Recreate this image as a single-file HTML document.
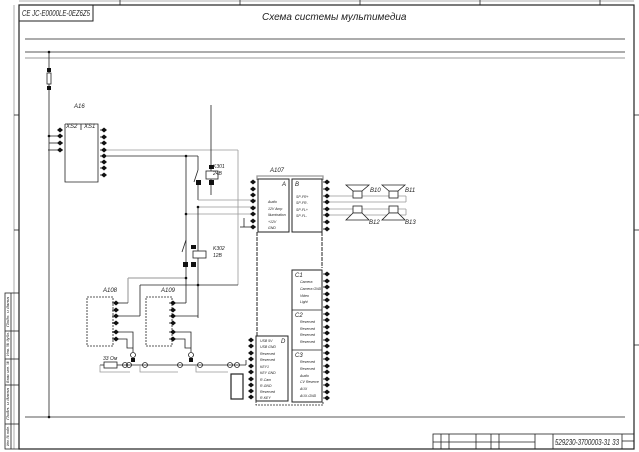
<!DOCTYPE html>
<html><head><meta charset="utf-8">
<style>
html,body{margin:0;padding:0;background:#fff}
svg{display:block}
text{font-family:"Liberation Sans",sans-serif;font-style:italic;fill:#222}
</style></head><body>
<svg width="639" height="452" viewBox="0 0 639 452" xmlns="http://www.w3.org/2000/svg">
<defs>
<g id="pr"><path d="M0,0 L3,-2.5 L6,0 L3,2.5 Z M3,-2.5 L6,0 L3,2.5" fill="#111"/><path d="M-1,0 L3,0" stroke="#111" stroke-width="0.8"/></g>
<g id="pl"><path d="M0,0 L-3,-2.5 L-6,0 L-3,2.5 Z" fill="#111"/></g>
</defs>
<g stroke="#222" fill="none" stroke-width="0.8">
<rect x="19" y="5" width="615" height="444" stroke-width="1.2"/>
<line x1="14" y1="5" x2="14" y2="449" stroke="#999"/>
<line x1="19" y1="1" x2="634" y2="1" stroke="#999"/>
<line x1="120" y1="0" x2="120" y2="5"/><line x1="240" y1="0" x2="240" y2="5"/><line x1="360" y1="0" x2="360" y2="5"/><line x1="480" y1="0" x2="480" y2="5"/><line x1="600" y1="0" x2="600" y2="5"/>
<line x1="14" y1="115" x2="19" y2="115"/><line x1="14" y1="230" x2="19" y2="230"/><line x1="634" y1="115" x2="639" y2="115"/><line x1="634" y1="230" x2="639" y2="230"/><line x1="634" y1="345" x2="639" y2="345"/>
<rect x="19" y="5" width="74" height="16" stroke-width="1"/>
<rect x="5" y="293" width="14" height="156"/>
<line x1="5" y1="331" x2="19" y2="331"/><line x1="5" y1="359" x2="19" y2="359"/><line x1="5" y1="385" x2="19" y2="385"/><line x1="5" y1="424" x2="19" y2="424"/>
<line x1="11" y1="293" x2="11" y2="449"/>
<rect x="433" y="434" width="201" height="15"/>
<line x1="433" y1="442" x2="535" y2="442"/>
<line x1="441" y1="434" x2="441" y2="449"/><line x1="449" y1="434" x2="449" y2="449"/><line x1="476" y1="434" x2="476" y2="449"/><line x1="491" y1="434" x2="491" y2="449"/><line x1="499" y1="434" x2="499" y2="449"/><line x1="535" y1="434" x2="535" y2="449"/><line x1="553" y1="434" x2="553" y2="449"/><line x1="622" y1="434" x2="622" y2="449"/><line x1="622" y1="441" x2="634" y2="441"/>
<line x1="25" y1="39" x2="625" y2="39"/>
<line x1="25" y1="52" x2="625" y2="52"/>
<line x1="25" y1="58" x2="625" y2="58" stroke="#bbb" stroke-width="1.6"/>
<line x1="25" y1="417" x2="625" y2="417"/>
<line x1="49" y1="52" x2="49" y2="417"/>
<rect x="47" y="73" width="4" height="11" fill="#fff"/>
<polyline points="65,124 65,182 98,182 98,124 65,124"/>
<line x1="81" y1="124" x2="81" y2="130"/>
<line x1="49" y1="136" x2="63" y2="136"/><line x1="49" y1="143" x2="63" y2="143"/>
<line x1="63" y1="150" x2="48" y2="150"/>
<line x1="107" y1="150" x2="238" y2="150" stroke="#999"/>
<line x1="107" y1="156" x2="198" y2="156"/>
<line x1="238" y1="150" x2="238" y2="285" stroke="#999"/>
<line x1="211" y1="105" x2="211" y2="195"/>
<rect x="206" y="171" width="12" height="8" fill="#fff"/>
<line x1="198" y1="156" x2="198" y2="170"/><line x1="198" y1="170" x2="194" y2="182"/>
<line x1="198" y1="182" x2="198" y2="200"/>
<line x1="198" y1="200" x2="256" y2="200" stroke="#999"/>
<line x1="198" y1="207" x2="256" y2="207" stroke="#999"/>
<line x1="186" y1="214" x2="256" y2="214" stroke="#999"/>
<line x1="186" y1="156" x2="186" y2="303"/>
<line x1="198" y1="207" x2="198" y2="318"/>
<rect x="193" y="251" width="13" height="7" fill="#fff"/>
<line x1="186" y1="240" x2="182" y2="252"/>
<line x1="186" y1="278" x2="128" y2="278" stroke="#aaa" stroke-width="1.3"/>
<line x1="128" y1="278" x2="128" y2="303" stroke="#aaa" stroke-width="1.3"/>
<line x1="238" y1="285" x2="140" y2="285"/>
<line x1="140" y1="285" x2="140" y2="316"/>
<line x1="113" y1="303" x2="128" y2="303"/><line x1="113" y1="316" x2="140" y2="316"/>
<line x1="172" y1="303" x2="186" y2="303"/><line x1="172" y1="316" x2="198" y2="316"/>
<line x1="244" y1="218" x2="244" y2="227"/><line x1="240" y1="227" x2="256" y2="227"/>
<rect x="87" y="297" width="26" height="49" stroke-dasharray="2,1"/>
<rect x="146" y="297" width="26" height="49" stroke-dasharray="2,1"/>
<polyline points="113,332 133,332 133,352"/><polyline points="113,339 127,339 127,348 133,348"/>
<polyline points="172,332 191,332 191,352"/><polyline points="172,339 185,339 185,348 191,348"/>
<line x1="100" y1="365" x2="246" y2="365"/>
<rect x="104" y="362" width="13" height="6" fill="#fff"/>
<polyline points="100,365 100,372 130,372" stroke="#999"/>
<polyline points="140,365 140,372 178,372" stroke="#999"/>
<polyline points="196,365 196,372 228,372" stroke="#999"/>
<circle cx="125" cy="365" r="2.5"/><circle cx="129" cy="365" r="2.5"/>
<circle cx="145" cy="365" r="2.5"/><circle cx="180" cy="365" r="2.5"/><circle cx="200" cy="365" r="2.5"/><circle cx="230" cy="365" r="2.5"/><circle cx="237" cy="365" r="2.5"/>
<circle cx="133" cy="355" r="2.5"/><circle cx="191" cy="355" r="2.5"/>
<line x1="246" y1="365" x2="246" y2="360"/>
<rect x="231" y="374" width="12" height="25" stroke-width="1.2"/>
<polyline points="257,180 257,176 323,176 323,180" stroke="#999" stroke-width="1.3"/>
<rect x="258" y="179" width="31" height="53" stroke-width="1"/>
<rect x="292" y="179" width="30" height="53" stroke-width="1"/>
<line x1="257" y1="232" x2="257" y2="336" stroke-width="1" stroke-dasharray="4,1"/>
<line x1="322" y1="232" x2="322" y2="268" stroke-width="1" stroke-dasharray="4,1"/>
<rect x="292" y="270" width="30" height="132" stroke-width="1"/>
<line x1="292" y1="310" x2="322" y2="310"/><line x1="292" y1="350" x2="322" y2="350"/>
<rect x="256" y="336" width="32" height="65" stroke-width="1"/>
<polyline points="256,401 256,405 323,405 323,401" stroke-dasharray="2,1"/>
<line x1="330" y1="196" x2="406" y2="196" stroke="#999"/><line x1="330" y1="202" x2="406" y2="202" stroke="#999"/>
<line x1="406" y1="196" x2="406" y2="202" stroke="#999"/>
<line x1="330" y1="209" x2="406" y2="209" stroke="#999"/><line x1="330" y1="215" x2="406" y2="215" stroke="#999"/>
<line x1="406" y1="209" x2="406" y2="215" stroke="#999"/>
<rect x="353" y="191" width="9" height="7" fill="#fff"/><polygon points="346,185 369,185 362,191 353,191" fill="#fff"/>
<rect x="389" y="191" width="9" height="7" fill="#fff"/><polygon points="382,185 405,185 398,191 389,191" fill="#fff"/>
<rect x="353" y="206" width="9" height="7" fill="#fff"/><polygon points="346,220 369,220 362,213 353,213" fill="#fff"/>
<rect x="389" y="206" width="9" height="7" fill="#fff"/><polygon points="382,220 405,220 398,213 389,213" fill="#fff"/>
</g>
<g>
<use href="#pl" x="63" y="130"/><use href="#pl" x="63" y="136"/><use href="#pl" x="63" y="143"/><use href="#pl" x="63" y="150"/>
<use href="#pr" x="101" y="130"/><use href="#pr" x="101" y="137"/><use href="#pr" x="101" y="143"/><use href="#pr" x="101" y="150"/><use href="#pr" x="101" y="156"/><use href="#pr" x="101" y="162"/><use href="#pr" x="101" y="168"/><use href="#pr" x="101" y="175"/>
<use href="#pl" x="256" y="182"/><use href="#pl" x="256" y="189"/><use href="#pl" x="256" y="195"/><use href="#pl" x="256" y="201"/><use href="#pl" x="256" y="208"/><use href="#pl" x="256" y="214"/><use href="#pl" x="256" y="221"/><use href="#pl" x="256" y="227"/>
<use href="#pr" x="324" y="182"/><use href="#pr" x="324" y="189"/><use href="#pr" x="324" y="196"/><use href="#pr" x="324" y="202"/><use href="#pr" x="324" y="209"/><use href="#pr" x="324" y="215"/><use href="#pr" x="324" y="222"/><use href="#pr" x="324" y="229"/>
<use href="#pr" x="113" y="303"/><use href="#pr" x="113" y="310"/><use href="#pr" x="113" y="316"/><use href="#pr" x="113" y="323"/><use href="#pr" x="113" y="332"/><use href="#pr" x="113" y="339"/>
<use href="#pr" x="170" y="303"/><use href="#pr" x="170" y="310"/><use href="#pr" x="170" y="316"/><use href="#pr" x="170" y="323"/><use href="#pr" x="170" y="332"/><use href="#pr" x="170" y="339"/>
<use href="#pl" x="254" y="340"/><use href="#pl" x="254" y="346"/><use href="#pl" x="254" y="353"/><use href="#pl" x="254" y="359"/><use href="#pl" x="254" y="366"/><use href="#pl" x="254" y="372"/><use href="#pl" x="254" y="379"/><use href="#pl" x="254" y="385"/><use href="#pl" x="254" y="391"/><use href="#pl" x="254" y="397"/>
<use href="#pr" x="324" y="274"/><use href="#pr" x="324" y="281"/><use href="#pr" x="324" y="287"/><use href="#pr" x="324" y="294"/><use href="#pr" x="324" y="300"/><use href="#pr" x="324" y="307"/><use href="#pr" x="324" y="314"/><use href="#pr" x="324" y="320"/><use href="#pr" x="324" y="327"/><use href="#pr" x="324" y="333"/><use href="#pr" x="324" y="340"/><use href="#pr" x="324" y="346"/><use href="#pr" x="324" y="353"/><use href="#pr" x="324" y="359"/><use href="#pr" x="324" y="366"/><use href="#pr" x="324" y="372"/><use href="#pr" x="324" y="379"/><use href="#pr" x="324" y="385"/><use href="#pr" x="324" y="392"/><use href="#pr" x="324" y="398"/>
<g fill="#111"><rect x="209" y="180" width="5" height="5"/><rect x="209" y="165" width="5" height="4"/><rect x="196" y="180" width="5" height="5"/><rect x="191" y="262" width="5" height="5"/><rect x="183" y="262" width="5" height="5"/><rect x="191" y="245" width="5" height="4"/><rect x="131" y="358" width="4" height="4"/><rect x="189" y="358" width="4" height="4"/><rect x="47" y="68" width="4" height="4"/><rect x="47" y="86" width="4" height="4"/>
<circle cx="186" cy="156" r="1.3"/><circle cx="186" cy="214" r="1.3"/><circle cx="198" cy="207" r="1.3"/><circle cx="186" cy="278" r="1.3"/><circle cx="198" cy="285" r="1.3"/><circle cx="49" cy="417" r="1.3"/><circle cx="49" cy="52" r="1.3"/><circle cx="49" cy="136" r="1.3"/></g>
</g>
<text x="22" y="16" font-size="8" textLength="68" lengthAdjust="spacingAndGlyphs">CE JC-E0000LE-0EZ6Z5</text>
<text x="262" y="20" font-size="10">Схема системы мультимедиа</text>
<text x="74" y="108" font-size="6">A16</text>
<text x="66" y="128" font-size="6">XS2</text><text x="84" y="128" font-size="6">XS1</text>
<text x="213" y="168" font-size="5">K301</text><text x="213" y="175" font-size="5">24В</text>
<text x="213" y="250" font-size="5">K302</text><text x="213" y="257" font-size="5">12В</text>
<text x="270" y="172" font-size="6">A107</text>
<text x="282" y="186" font-size="6">A</text><text x="295" y="186" font-size="6">B</text>
<text x="295" y="277" font-size="6">C1</text><text x="295" y="317" font-size="6">C2</text><text x="295" y="357" font-size="6">C3</text><text x="281" y="343" font-size="6">D</text>
<text x="370" y="192" font-size="6">B10</text><text x="405" y="192" font-size="6">B11</text>
<text x="369" y="224" font-size="6">B12</text><text x="405" y="224" font-size="6">B13</text>
<text x="103" y="292" font-size="6">A108</text><text x="161" y="292" font-size="6">A109</text>
<text x="103" y="360" font-size="5">33 Ом</text>
<text x="555" y="445" font-size="8" textLength="64" lengthAdjust="spacingAndGlyphs">529230-3700003-31 33</text>
<g font-size="3.5" fill="#666">
<text x="268" y="203">Audio</text><text x="268" y="210">12V Amp</text><text x="268" y="216">Illumination</text><text x="268" y="223">+12V</text><text x="268" y="229">GND</text>
<text x="296" y="198">SP-FR+</text><text x="296" y="204">SP-FR-</text><text x="296" y="211">SP-FL+</text><text x="296" y="217">SP-FL-</text>
<text x="300" y="283">Camera</text><text x="300" y="290">Camera GND</text><text x="300" y="297">Video</text><text x="300" y="303">Light</text>
<text x="300" y="323">Reserved</text><text x="300" y="330">Reserved</text><text x="300" y="336">Reserved</text><text x="300" y="343">Reserved</text>
<text x="300" y="363">Reserved</text><text x="300" y="370">Reserved</text><text x="300" y="377">Audio</text><text x="300" y="383">CV Reserve</text><text x="300" y="390">AUX</text><text x="300" y="397">AUX-GND</text>
<text x="260" y="342">USB 5V</text><text x="260" y="348">USB GND</text><text x="260" y="355">Reserved</text><text x="260" y="361">Reserved</text><text x="260" y="368">KEY1</text><text x="260" y="374">KEY GND</text><text x="260" y="381">R-Cam</text><text x="260" y="387">R-GND</text><text x="260" y="393">Reserved</text><text x="260" y="399">R-KEY</text>
</g>
<g font-size="4" fill="#444">
<text x="9" y="327" transform="rotate(-90 9 327)" textLength="30" lengthAdjust="spacingAndGlyphs">Подп. и дата</text>
<text x="9" y="356" transform="rotate(-90 9 356)" textLength="24" lengthAdjust="spacingAndGlyphs">Инв. № дубл.</text>
<text x="9" y="383" transform="rotate(-90 9 383)" textLength="22" lengthAdjust="spacingAndGlyphs">Взам. инв. №</text>
<text x="9" y="420" transform="rotate(-90 9 420)" textLength="32" lengthAdjust="spacingAndGlyphs">Подп. и дата</text>
<text x="9" y="446" transform="rotate(-90 9 446)" textLength="20" lengthAdjust="spacingAndGlyphs">Инв. № подл.</text>
</g>
</svg>
</body></html>
